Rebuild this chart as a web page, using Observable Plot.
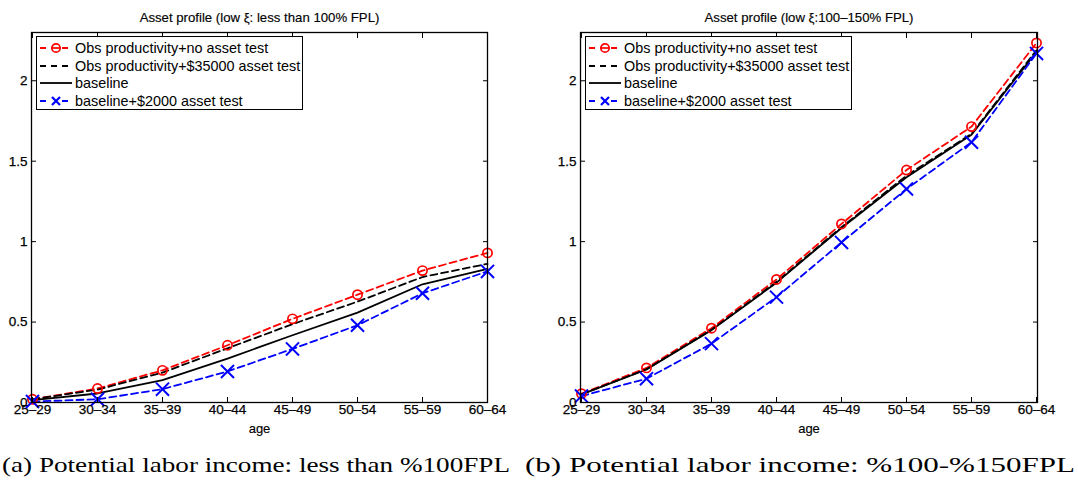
<!DOCTYPE html>
<html>
<head>
<meta charset="utf-8">
<script src="https://cdn.jsdelivr.net/npm/d3@7"></script>
<script src="https://cdn.jsdelivr.net/npm/@observablehq/plot@0.6"></script>
<style>
  html, body { margin: 0; padding: 0; background: #fff; }
  #root { position: relative; width: 1078px; height: 488px; overflow: hidden; font-family: "Liberation Sans", Arial, sans-serif; }
  .panel { position: absolute; top: 0; width: 539px; }
  .legend { position: absolute; top: 36px; height: 74px; border: 1px solid #000; background: #fff; box-sizing: border-box; }
  .legrow { position: absolute; left: 0; height: 18px; display: flex; align-items: center; font-size: 14.4px; white-space: nowrap; color: #000; }
  .legrow svg { display: block; margin-left: 2px; margin-right: 2px; }
  #captions { position: absolute; left: 0; top: 440px; }
</style>
</head>
<body>
<div id="root"></div>
<script>
// ---- data ----
const ages = ["25–29", "30–34", "35–39", "40–44", "45–49", "50–54", "55–59", "60–64"];
const yTicks = [0, 0.5, 1, 1.5, 2];
const seriesNames = [
  "Obs productivity+no asset test",
  "Obs productivity+$35000 asset test",
  "baseline",
  "baseline+$2000 asset test"
];
// Panel (a): less than 100% FPL
const obsNoTestA = [0.02, 0.087, 0.20, 0.356, 0.52, 0.67, 0.82, 0.93];
const obs35kA    = [0.02, 0.08, 0.186, 0.337, 0.487, 0.627, 0.78, 0.862];
const baselineA  = [0.015, 0.056, 0.139, 0.273, 0.418, 0.559, 0.735, 0.83];
const base2kA    = [0.006, 0.02, 0.083, 0.193, 0.333, 0.48, 0.679, 0.815];
// Panel (b): 100-150% FPL
const obsNoTestB = [0.055, 0.215, 0.462, 0.765, 1.11, 1.445, 1.715, 2.235];
const obs35kB    = [0.05, 0.207, 0.452, 0.75, 1.09, 1.41, 1.67, 2.19];
const baselineB  = [0.05, 0.205, 0.45, 0.745, 1.085, 1.40, 1.665, 2.18];
const base2kB    = [0.04, 0.148, 0.366, 0.655, 0.995, 1.327, 1.618, 2.17];

const titles = ["Asset profile (low ξ: less than 100% FPL)", "Asset profile (low ξ:100–150% FPL)"];
const captions = ["(a) Potential labor income: less than %100FPL", "(b) Potential labor income: %100-%150FPL"];

// ---- styles per series ----
const styles = [
  {stroke: "#ff0000", dash: "7,4", marker: "circle"},
  {stroke: "#000000", dash: "7,4", marker: null},
  {stroke: "#000000", dash: null, marker: null},
  {stroke: "#0000ff", dash: "7,4", marker: "times"}
];

function rows(arrays) {
  const out = [];
  arrays.forEach((arr, s) => arr.forEach((v, i) => out.push({series: s, age: ages[i], value: v})));
  return out;
}

function makePanel(arrays, title, margins) {
  const data = rows(arrays);
  const marks = [];
  styles.forEach((st, s) => {
    const d = data.filter(r => r.series === s);
    marks.push(Plot.line(d, {x: "age", y: "value", stroke: st.stroke, strokeWidth: 1.8,
      strokeDasharray: st.dash || undefined}));
  });
  styles.forEach((st, s) => {
    const d = data.filter(r => r.series === s);
    if (st.marker === "circle") marks.push(Plot.dot(d, {x: "age", y: "value", r: 4.6, stroke: st.stroke, fill: "none", strokeWidth: 1.7}));
    if (st.marker === "times") marks.push(Plot.dot(d, {x: "age", y: "value", symbol: "times", r: 6, stroke: st.stroke, strokeWidth: 2}));
  });
  const txt = {fill: "#000", stroke: "#000", strokeWidth: 0.25};
  return Plot.plot({
    width: 539,
    height: 445,
    marginTop: 32,
    marginBottom: 43,
    marginLeft: margins[0],
    marginRight: margins[1],
    style: {fontFamily: "'Liberation Sans', Arial, sans-serif", overflow: "visible", background: "transparent"},
    x: {type: "point", domain: ages, padding: 0, label: null, axis: null},
    y: {domain: [0, 2.3], label: null, axis: null},
    marks: [
      ...marks,
      Plot.frame({stroke: "#000", strokeWidth: 1.3}),
      // inward ticks on all four sides
      Plot.axisX({anchor: "bottom", tickSize: -5, tickFormat: () => "", label: null}),
      Plot.axisX({anchor: "top", tickSize: -5, tickFormat: () => "", label: null}),
      Plot.axisY({anchor: "left", ticks: yTicks, tickSize: -5, tickFormat: () => "", label: null}),
      Plot.axisY({anchor: "right", ticks: yTicks, tickSize: -5, tickFormat: () => "", label: null}),
      // tick labels
      Plot.text(ages, {x: d => d, frameAnchor: "bottom", dy: 11, fontSize: 13.5, ...txt}),
      Plot.text(yTicks, {y: d => d, text: d => String(d), frameAnchor: "left", dx: -4, textAnchor: "end", fontSize: 13.5, ...txt}),
      Plot.text([title], {frameAnchor: "top", dy: -20, fontSize: 13.2, ...txt, strokeWidth: 0.15}),
      Plot.text(["age"], {frameAnchor: "bottom", dy: 30, fontSize: 13, ...txt, strokeWidth: 0.15})
    ]
  });
}

function makeLegend(left) {
  const box = document.createElement("div");
  box.className = "legend";
  box.style.left = left + "px";
  box.style.width = "267px";
  seriesNames.forEach((name, s) => {
    const st = styles[s];
    const row = document.createElement("div");
    row.className = "legrow";
    row.style.top = (2 + s * 17.7) + "px";
    const ns = "http://www.w3.org/2000/svg";
    const svg = document.createElementNS(ns, "svg");
    svg.setAttribute("width", 34); svg.setAttribute("height", 18);
    const ln = document.createElementNS(ns, "line");
    ln.setAttribute("x1", 1); ln.setAttribute("x2", 33); ln.setAttribute("y1", 9); ln.setAttribute("y2", 9);
    ln.setAttribute("stroke", st.stroke); ln.setAttribute("stroke-width", 1.8);
    if (st.dash) ln.setAttribute("stroke-dasharray", "6,5");
    svg.appendChild(ln);
    if (st.marker === "circle") {
      const c = document.createElementNS(ns, "circle");
      c.setAttribute("cx", 17); c.setAttribute("cy", 9); c.setAttribute("r", 4.2);
      c.setAttribute("fill", "#fff"); c.setAttribute("stroke", st.stroke); c.setAttribute("stroke-width", 1.7);
      svg.appendChild(c);
      const l2 = document.createElementNS(ns, "line");
      l2.setAttribute("x1", 13); l2.setAttribute("x2", 21); l2.setAttribute("y1", 9); l2.setAttribute("y2", 9);
      l2.setAttribute("stroke", st.stroke); l2.setAttribute("stroke-width", 1.7);
      svg.appendChild(l2);
    }
    if (st.marker === "times") {
      const r = document.createElementNS(ns, "rect");
      r.setAttribute("x", 12); r.setAttribute("y", 3); r.setAttribute("width", 10); r.setAttribute("height", 12); r.setAttribute("fill", "#fff");
      svg.appendChild(r);
      const p = document.createElementNS(ns, "path");
      p.setAttribute("d", "M13,5L21,13M21,5L13,13");
      p.setAttribute("stroke", st.stroke); p.setAttribute("stroke-width", 2.2);
      svg.appendChild(p);
    }
    row.appendChild(svg);
    const t = document.createElement("span");
    t.textContent = name;
    row.appendChild(t);
    box.appendChild(row);
  });
  return box;
}

const root = document.getElementById("root");
const pA = document.createElement("div"); pA.className = "panel"; pA.style.left = "0px";
pA.appendChild(makePanel([obsNoTestA, obs35kA, baselineA, base2kA], titles[0], [31, 52]));
pA.appendChild(makeLegend(36));
root.appendChild(pA);
const pB = document.createElement("div"); pB.className = "panel"; pB.style.left = "539px";
pB.appendChild(makePanel([obsNoTestB, obs35kB, baselineB, base2kB], titles[1], [41, 41]));
pB.appendChild(makeLegend(46));
root.appendChild(pB);

// captions
const ns = "http://www.w3.org/2000/svg";
const cap = document.createElementNS(ns, "svg");
cap.setAttribute("id", "captions");
cap.setAttribute("width", 1078); cap.setAttribute("height", 48);
const capPos = [[2, 508], [525, 550]];
captions.forEach((c, i) => {
  const t = document.createElementNS(ns, "text");
  t.setAttribute("x", capPos[i][0]); t.setAttribute("y", 32);
  t.setAttribute("textLength", capPos[i][1]);
  t.setAttribute("lengthAdjust", "spacingAndGlyphs");
  t.setAttribute("font-family", "'Liberation Serif', 'DejaVu Serif', serif");
  t.setAttribute("font-size", 21);
  t.textContent = c;
  cap.appendChild(t);
});
root.appendChild(cap);
</script>
</body>
</html>
